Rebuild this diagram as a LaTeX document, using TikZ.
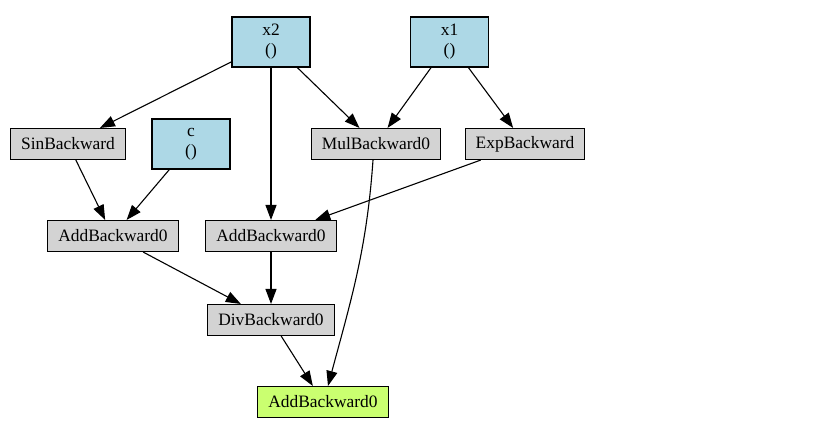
\documentclass[tikz,border=0pt]{standalone}
\usepackage{fontspec}
\setmainfont{Liberation Serif}
\usepackage{tikz}
\usetikzlibrary{ arrows.meta }
\definecolor{leafblue}{RGB}{173,216,230}
\definecolor{opgray}{RGB}{211,211,211}
\definecolor{outgreen}{RGB}{202,255,112}

\begin{document}
\begin{tikzpicture}[x=1bp, y=-1bp,
        op/.style={draw, fill=opgray, line width=1.1bp, inner xsep=10.5bp, minimum height=31bp,
            font=\fontsize{17.4bp}{20bp}\selectfont},
        leaf/.style={op, fill=leafblue, align=center, minimum width=78bp, minimum height=50bp},
        edge/.style={-{Triangle[length=15bp,width=11bp]}, line width=1.1bp}]
        \useasboundingbox (0,0) rectangle (826,432);
        \node[leaf] (x2) at (271,42) {x2\\()};
        \node[leaf] (x1) at (449.5,42) {x1\\()};
        \node[leaf] (c) at (191,144) {c\\()};
        \node[op] (sin) at (68,144) {SinBackward};
        \node[op] (mul) at (376,144) {MulBackward0};
        \node[op] (exp) at (525,144) {ExpBackward};
        \node[op] (addl) at (113,236) {AddBackward0};
        \node[op] (addm) at (271,236) {AddBackward0};
        \node[op] (div) at (271,320) {DivBackward0};
        \node[op, fill=outgreen] (out) at (323,402) {AddBackward0};
        \draw[edge] (x2) -- (sin);
        \draw[edge] (x2) -- (mul);
        \draw[edge] (x2) -- (addm);
        \draw[edge] (x1) -- (mul);
        \draw[edge] (x1) -- (exp);
        \draw[edge] (sin) -- (addl);
        \draw[edge] (c) -- (addl);
        \draw[edge] (exp) -- (addm);
        \draw[edge] (addl) -- (div);
        \draw[edge] (addm) -- (div);
        \draw[edge] (div) -- (out);
        \draw[edge] ([xshift=-3bp]mul.south) to[out=-94, in=75] ([xshift=5bp]out.north);
    \end{tikzpicture}
\end{document}
